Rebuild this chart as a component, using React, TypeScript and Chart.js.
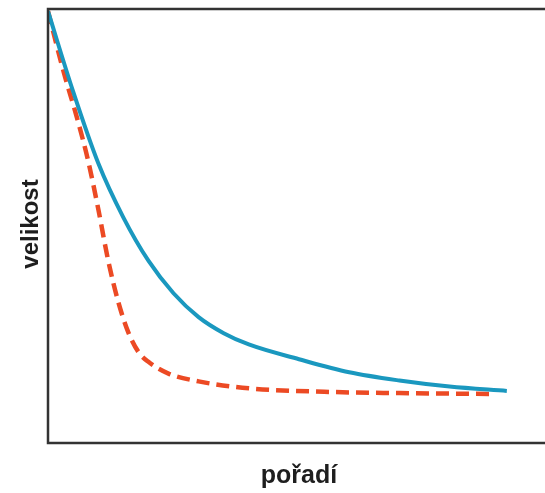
import React, { useEffect, useRef } from "react";
import { Chart, registerables } from "chart.js";

Chart.register(...registerables);

const blueX = [0, 5, 10, 15, 20, 25, 30, 35, 40, 50, 60, 70, 80, 91.4];
const blueY = [99.5, 81, 64.5, 52, 42, 34.5, 29, 25.3, 22.7, 19.3, 16.3, 14.4, 13.0, 12.0];
const redX = [0, 3, 6, 8, 10, 12, 14, 16, 18, 20, 24, 30, 40, 55, 70, 88.6];
const redY = [99.5, 86, 74, 65, 54, 42, 32.5, 25.5, 21, 18.7, 16, 14.2, 12.6, 11.8, 11.5, 11.3];
const xTitle = "pořadí";
const yTitle = "velikost";

const W = 556;
const H = 493;

export default function App() {
  const ref = useRef<HTMLCanvasElement | null>(null);

  useEffect(() => {
    if (!ref.current) return;
    const framePlugin = {
      id: "frame",
      afterDatasetsDraw(chart: any) {
        const { ctx, chartArea } = chart;
        ctx.save();
        ctx.strokeStyle = "#333333";
        ctx.lineWidth = 2.5;
        ctx.strokeRect(chartArea.left, chartArea.top, chartArea.right - chartArea.left, chartArea.bottom - chartArea.top);
        ctx.fillStyle = "#1e1e1e";
        ctx.font = "bold 25px 'Liberation Sans', Arial, sans-serif";
        ctx.textAlign = "center";
        ctx.textBaseline = "alphabetic";
        ctx.fillText(xTitle, (chartArea.left + chartArea.right) / 2, 483);
        ctx.translate(38, 224);
        ctx.rotate(-Math.PI / 2);
        ctx.font = "bold 24px 'Liberation Sans', Arial, sans-serif";
        ctx.fillText(yTitle, 0, 0);
        ctx.restore();
      },
    };
    const chart = new Chart(ref.current, {
      type: "scatter",
      data: {
        datasets: [
          {
            label: "blue",
            data: blueX.map((x, i) => ({ x, y: blueY[i] })),
            showLine: true,
            borderColor: "#1a98bf",
            borderWidth: 4,
            pointRadius: 0,
            cubicInterpolationMode: "monotone",
            order: 0,
          },
          {
            label: "red",
            data: redX.map((x, i) => ({ x, y: redY[i] })),
            showLine: true,
            borderColor: "#ec4a24",
            borderWidth: 4.5,
            borderDash: [13, 7],
            pointRadius: 0,
            cubicInterpolationMode: "monotone",
            order: 1,
          },
        ],
      },
      options: {
        responsive: false,
        animation: false,
        layout: { padding: { left: 48, top: 9, right: W - 550, bottom: H - 443 } },
        plugins: { legend: { display: false }, tooltip: { enabled: false } },
        scales: {
          x: { type: "linear", min: 0, max: 100, display: false },
          y: { type: "linear", min: 0, max: 100, display: false },
        },
      },
      plugins: [framePlugin],
    });
    return () => chart.destroy();
  }, []);

  return (
    <div style={{ position: "absolute", left: 0, top: 0, width: 545, height: H, overflow: "hidden", background: "#fff" }}>
      <canvas ref={ref} width={W} height={H} style={{ width: W, height: H, display: "block" }} />
    </div>
  );
}
